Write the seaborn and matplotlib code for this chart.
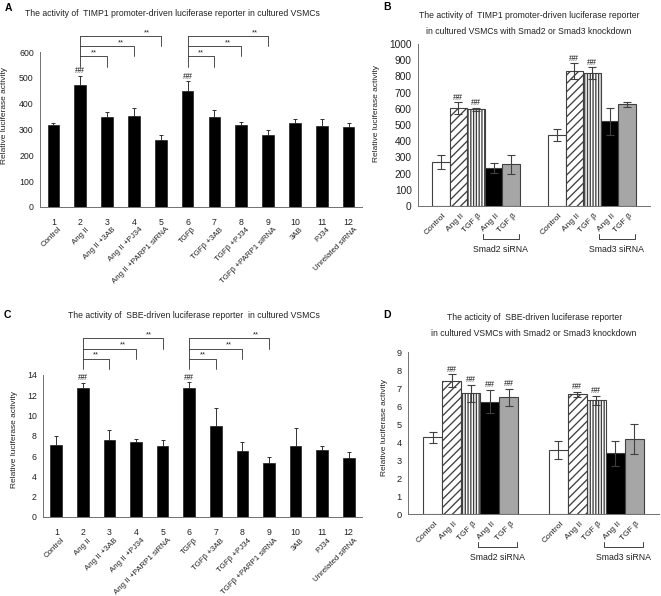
import matplotlib
matplotlib.use('Agg')
import matplotlib.pyplot as plt
import matplotlib.transforms as mtransforms
import numpy as np
import pandas as pd
import seaborn as sns

W, H = 661, 596

# panels A and C: twelve treatments
numbers = [str(i) for i in range(1, 13)]
treatments = ['Control', 'Ang II', 'Ang II +3AB', 'Ang II +PJ34', 'Ang II +PARP1 siRNA',
              'TGFβ', 'TGFβ +3AB', 'TGFβ +PJ34', 'TGFβ +PARP1 siRNA', '3AB', 'PJ34',
              'Unrelated siRNA']
timp1_mean = [317, 473, 349, 352, 261, 449, 350, 318, 279, 327, 313, 310]
timp1_err = [9, 36, 17, 32, 17, 37, 24, 12, 19, 15, 29, 17]
sbe_mean = [7.1, 12.75, 7.6, 7.38, 6.98, 12.7, 8.98, 6.47, 5.35, 7.03, 6.6, 5.8]
sbe_err = [0.85, 0.5, 1.0, 0.33, 0.63, 0.6, 1.8, 0.95, 0.6, 1.7, 0.43, 0.65]
treat_hash = [1, 5]

# panels B and D: Smad2 / Smad3 knockdown
groups = ['Smad2 siRNA', 'Smad3 siRNA']
conditions = ['Control', 'Ang II', 'TGF β', 'Ang II + siRNA', 'TGF β + siRNA']
cond_labels = ['Control', 'Ang II', 'TGF β', 'Ang II', 'TGF β']
cond_colors = ['white', 'white', 'white', 'black', '#a6a6a6']
cond_hatches = ['', '////', '||||||', '', '']

timp1_smad2 = [272, 602, 596, 235, 258]
timp1_smad2_err = [43, 37, 10, 33, 59]
timp1_smad3 = [441, 833, 818, 524, 627]
timp1_smad3_err = [37, 47, 37, 84, 18]
timp1_hash = [(0, 1), (0, 2), (1, 1), (1, 2)]

sbe_smad2 = [4.26, 7.41, 6.70, 6.24, 6.48]
sbe_smad2_err = [0.3, 0.35, 0.48, 0.65, 0.48]
sbe_smad3 = [3.56, 6.65, 6.31, 3.37, 4.17]
sbe_smad3_err = [0.5, 0.15, 0.26, 0.7, 0.81]
sbe_hash = [(0, 1), (0, 2), (0, 3), (0, 4), (1, 1), (1, 2)]

INK = '#222222'
SPINE = '#707070'


def px_axes(fig, left, right, top, bottom):
    return fig.add_axes([left / W, 1 - bottom / H, (right - left) / W, (bottom - top) / H])


def fig_text(fig, x, y, s, **kw):
    fig.text(x / W, 1 - y / H, s, **kw)


def style_axis(ax, ymax, ystep, ysize):
    ax.set_ylim(0, ymax)
    ax.set_yticks(np.arange(0, ymax + ystep / 2, ystep))
    sns.despine(ax=ax)
    for side in ('left', 'bottom'):
        ax.spines[side].set_color(SPINE)
        ax.spines[side].set_linewidth(0.7)
    ax.spines['left'].set_bounds(0, ymax)
    ax.tick_params(axis='y', direction='out', length=2.5, width=0.6, color=SPINE,
                   labelsize=ysize, labelcolor=INK, pad=2)
    ax.set_xlabel('')


def set_ylabel(ax, x_px, y_px, left, bottom, width, height):
    ax.set_ylabel('Relative luciferase activity', fontsize=6, color=INK)
    ax.yaxis.set_label_coords((x_px - left) / width, (bottom - y_px) / height)


def plot_treatments(ax, means, errs, ymax, ystep, levels, num_pad, lab_drop):
    n = len(means)
    sns.barplot(x=numbers, y=means, color='black', saturation=1, width=0.44,
                edgecolor='#202020', linewidth=0.5, errorbar=None, ax=ax)
    xs = [b.get_x() + b.get_width() / 2 for b in ax.containers[0]]
    ax.errorbar(xs, means, yerr=[np.zeros(n), errs], fmt='none', ecolor='#303030',
                elinewidth=0.7, capsize=1.2, capthick=0.7)
    for i in treat_hash:
        ax.annotate('##', (xs[i], means[i] + errs[i]), xytext=(0, 0.3),
                    textcoords='offset points', ha='center', va='bottom', fontsize=6.5,
                    color=INK)

    # comparison brackets
    base, y1, y2, y3 = levels
    ys = [base, y1, y2, y3]
    for start in treat_hash:
        ax.plot([start, start], [y3, base], color='#303030', lw=0.6, clip_on=False)
        for k in (1, 2, 3):
            ax.plot([start, start + k, start + k], [ys[k], ys[k], ys[k - 1]],
                    color='#303030', lw=0.6, clip_on=False)
            ax.text(start + k - 0.5, ys[k], '**', ha='center', va='bottom',
                    fontsize=5.5, color=INK, clip_on=False)

    style_axis(ax, ymax, ystep, 6.3)
    ax.set_xlim(-0.5, n - 0.5)
    ax.set_xticks(np.arange(-0.5, n), minor=True)
    ax.tick_params(axis='x', which='major', length=0, pad=num_pad, labelsize=6.3,
                   labelcolor=INK)
    ax.tick_params(axis='x', which='minor', direction='in', length=2, width=0.6,
                   color=SPINE)
    trans = mtransforms.blended_transform_factory(ax.transData, ax.transAxes)
    for x, lab in zip(xs, treatments):
        ax.annotate(lab, (x, 0), xycoords=trans, xytext=(5, -lab_drop),
                    textcoords='offset pixels', rotation=45, ha='right', va='top',
                    rotation_mode='anchor', fontsize=5.7, color=INK)


def plot_knockdown(ax, smad2, smad2_err, smad3, smad3_err, ymax, ystep, marks, ysize,
                   height_px):
    df = pd.DataFrame({'group': np.repeat(groups, len(conditions)),
                       'condition': conditions * 2,
                       'value': smad2 + smad3})
    sns.barplot(data=df, x='group', y='value', hue='condition', hue_order=conditions,
                palette=cond_colors, saturation=1, width=0.76, edgecolor='#404040',
                linewidth=0.8, errorbar=None, legend=False, ax=ax)
    bar_containers = list(ax.containers)
    errs = [smad2_err, smad3_err]
    vals = [smad2, smad3]
    centers = {}
    for j, cont in enumerate(bar_containers):
        for g, bar in enumerate(cont):
            bar.set_hatch(cond_hatches[j])
            centers[(g, j)] = bar.get_x() + bar.get_width() / 2
    for (g, j), x in centers.items():
        ax.errorbar(x, vals[g][j], yerr=errs[g][j], fmt='none', ecolor='#404040',
                    elinewidth=0.8, capsize=2.8, capthick=0.8)
    for g, j in marks:
        ax.annotate('##', (centers[(g, j)], vals[g][j] + errs[g][j]), xytext=(0, 0.5),
                    textcoords='offset points', ha='center', va='bottom', fontsize=6.5,
                    color=INK)

    style_axis(ax, ymax, ystep, ysize)
    ax.set_xlim(-0.5, 1.5)
    ax.set_xticks([])
    ax.set_xticks([-0.5, 0.5, 1.5], minor=True)
    ax.tick_params(axis='x', which='minor', direction='in', length=2, width=0.6,
                   color=SPINE)
    trans = mtransforms.blended_transform_factory(ax.transData, ax.transAxes)
    for (g, j), x in centers.items():
        ax.annotate(cond_labels[j], (x, 0), xycoords=trans, xytext=(2, -6),
                    textcoords='offset pixels', rotation=45, ha='right', va='top',
                    rotation_mode='anchor', fontsize=6, color=INK)
    y_line = -33 / height_px
    y_tick = -28 / height_px
    for g, name in enumerate(groups):
        x1, x2 = g + 0.06, g + 0.37
        ax.plot([x1, x1, x2, x2], [y_tick, y_line, y_line, y_tick], transform=trans,
                color='#404040', lw=0.7, clip_on=False)
        ax.annotate(name, (g + 0.215, 0), xycoords=trans, xytext=(0, -43),
                    textcoords='offset pixels', ha='center', va='center', fontsize=6.3,
                    color=INK)


def main():
    sns.set_style('white')
    plt.rcParams['font.family'] = ['Liberation Sans', 'DejaVu Sans']
    plt.rcParams['hatch.linewidth'] = 0.95

    fig = plt.figure(figsize=(W / 100, H / 100), dpi=100)

    # A
    ax_a = px_axes(fig, 40, 362, 52, 207)
    plot_treatments(ax_a, timp1_mean, timp1_err, 600, 100, (542, 583, 622, 660), 8, 19)
    set_ylabel(ax_a, 8, 115, 40, 207, 322, 155)

    # B
    ax_b = px_axes(fig, 418, 650, 44, 206)
    plot_knockdown(ax_b, timp1_smad2, timp1_smad2_err, timp1_smad3, timp1_smad3_err,
                   1000, 100, timp1_hash, 7.3, 162)
    set_ylabel(ax_b, 380, 114, 418, 206, 232, 162)

    # C
    ax_c = px_axes(fig, 43, 362, 375, 517)
    plot_treatments(ax_c, sbe_mean, sbe_err, 14, 2, (14.55, 15.6, 16.6, 17.6), 8, 20)
    set_ylabel(ax_c, 18, 439, 43, 517, 319, 142)

    # D
    ax_d = px_axes(fig, 408, 659, 352, 514)
    plot_knockdown(ax_d, sbe_smad2, sbe_smad2_err, sbe_smad3, sbe_smad3_err,
                   9, 1, sbe_hash, 6.7, 162)
    set_ylabel(ax_d, 388, 428, 408, 514, 251, 162)

    # titles and panel letters
    tkw = dict(ha='center', va='center', fontsize=6.2, color=INK)
    fig_text(fig, 172, 13, 'The activity of  TIMP1 promoter-driven luciferase reporter in cultured VSMCs', **tkw)
    fig_text(fig, 529, 15, 'The activity of  TIMP1 promoter-driven luciferase reporter', **tkw)
    fig_text(fig, 529, 31, 'in cultured VSMCs with Smad2 or Smad3 knockdown', **tkw)
    fig_text(fig, 194, 315, 'The activity of  SBE-driven luciferase reporter  in cultured VSMCs', **tkw)
    fig_text(fig, 535, 318, 'The acticity of  SBE-driven luciferase reporter', **tkw)
    fig_text(fig, 534, 333, 'in cultured VSMCs with Smad2 or Smad3 knockdown', **tkw)

    lkw = dict(ha='center', va='center', fontsize=7.5, fontweight='bold', color='black')
    fig_text(fig, 8, 8, 'A', **lkw)
    fig_text(fig, 387, 7, 'B', **lkw)
    fig_text(fig, 7, 315, 'C', **lkw)
    fig_text(fig, 387, 315, 'D', **lkw)

    fig.savefig('out.png', dpi=100)


if __name__ == '__main__':
    main()
